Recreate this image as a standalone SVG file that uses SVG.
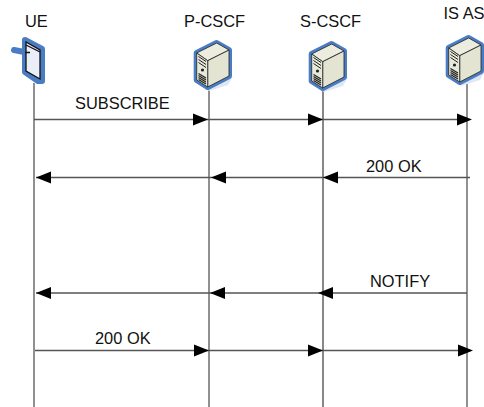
<svg xmlns="http://www.w3.org/2000/svg" width="484" height="407" viewBox="0 0 484 407">
<style>
text{font-family:"Liberation Sans",Arial,sans-serif;font-size:16.4px;fill:#111}
.ll{stroke:#555;stroke-width:1.3;fill:none}
.m{stroke:#555;stroke-width:1.3;fill:none}
.ah{fill:#000;stroke:none}
.halo{fill:#4a7cc4;stroke:#4a7cc4;stroke-width:6;stroke-linejoin:round}
.top{fill:#ecedde;stroke:#222;stroke-width:.8;stroke-linejoin:round}
.side{fill:#e3e5d2;stroke:#222;stroke-width:.8;stroke-linejoin:round}
.front{fill:#e6e8d8;stroke:#222;stroke-width:.8;stroke-linejoin:round}
.d{stroke:#222;stroke-width:1;fill:none}
</style>
<defs>
<g id="srv">
<path d="M-14 18-3 26 16 20 21 11Z" fill="#dfe7f3"/>
<path class="halo" d="M4.700-22 17-15V11L-4.300 22-15.300 15V-12Z"/>
<path class="top" d="M-15.300-12 4.700-22 17-15-4.300-4.300Z"/>
<path class="side" d="M-4.300-4.300 17-15V11L-4.300 22Z"/>
<path class="front" d="M-15.300-12-4.300-4.300V22L-15.300 15Z"/>
<path class="d" d="M-13.500-8.500-6-3.500M-13.500-5.500-6-.5M-13.500-2.500-6 2.500"/>
<path d="M-13.500 8.500-6 13M-13.500 10.500-6 15M-13.500 12.500-6 17M-13.500 14.500-6 19" stroke="#222" stroke-width="1.200" fill="none"/>
<circle cx="-9.500" cy="5" r="1.600" fill="#222"/>
</g>
<path id="r" class="ah" d="M-15-6 0 0-15 6Z"/>
<path id="l" class="ah" d="M15-6 0 0 15 6Z"/>
</defs>
<g id="connectors">
<path class="ll" d="M34 83V407"/>
<path class="ll" d="M209 90V407"/>
<path class="ll" d="M323 90V407" style="stroke:#111;stroke-width:1"/>
<path class="ll" d="M467 84V407"/>
<path class="m" d="M34 119.500H467M36 177.500H470M36 293H467M35 350.500H470"/>
<use href="#r" x="208" y="119.500"/><use href="#r" x="323" y="119.500"/><use href="#r" x="472" y="119.500"/>
<use href="#l" x="36" y="177.500"/><use href="#l" x="211" y="177.500"/><use href="#l" x="323" y="177.500"/>
<use href="#l" x="36" y="293"/><use href="#l" x="210" y="293"/><use href="#l" x="318" y="293"/>
<use href="#r" x="209" y="350.500"/><use href="#r" x="323" y="350.500"/><use href="#r" x="473" y="350.500"/>
<text x="75" y="109">SUBSCRIBE</text>
<text x="366" y="172">200 OK</text>
<text x="370" y="287">NOTIFY</text>
<text x="95" y="344">200 OK</text>
</g>
<g id="ue">
<text x="25" y="27">UE</text>
<path d="M14 50 27 52.500" stroke="#4a7cc4" stroke-width="6" stroke-linecap="round" fill="none"/>
<path d="M25 40 42 49V81H38L25 72Z" fill="#4a7cc4" stroke="#4a7cc4" stroke-width="6" stroke-linejoin="round"/>
<path d="M26 42 40 50V79L26 71Z" fill="#e9eef8" stroke="#111" stroke-width="1.300"/>
<path d="M26 45 40 52" stroke="#111" stroke-width="1.300"/>
<path d="M25 52.500H30" stroke="#111" stroke-width="1.500"/>
</g>
<g id="p-cscf"><text x="184" y="27">P-CSCF</text><use href="#srv" x="212" y="65"/></g>
<g id="s-cscf"><text x="300" y="27">S-CSCF</text><use href="#srv" x="327" y="66"/></g>
<g id="is-as"><text x="443.500" y="19">IS AS</text><use href="#srv" x="464" y="60"/></g>
</svg>
